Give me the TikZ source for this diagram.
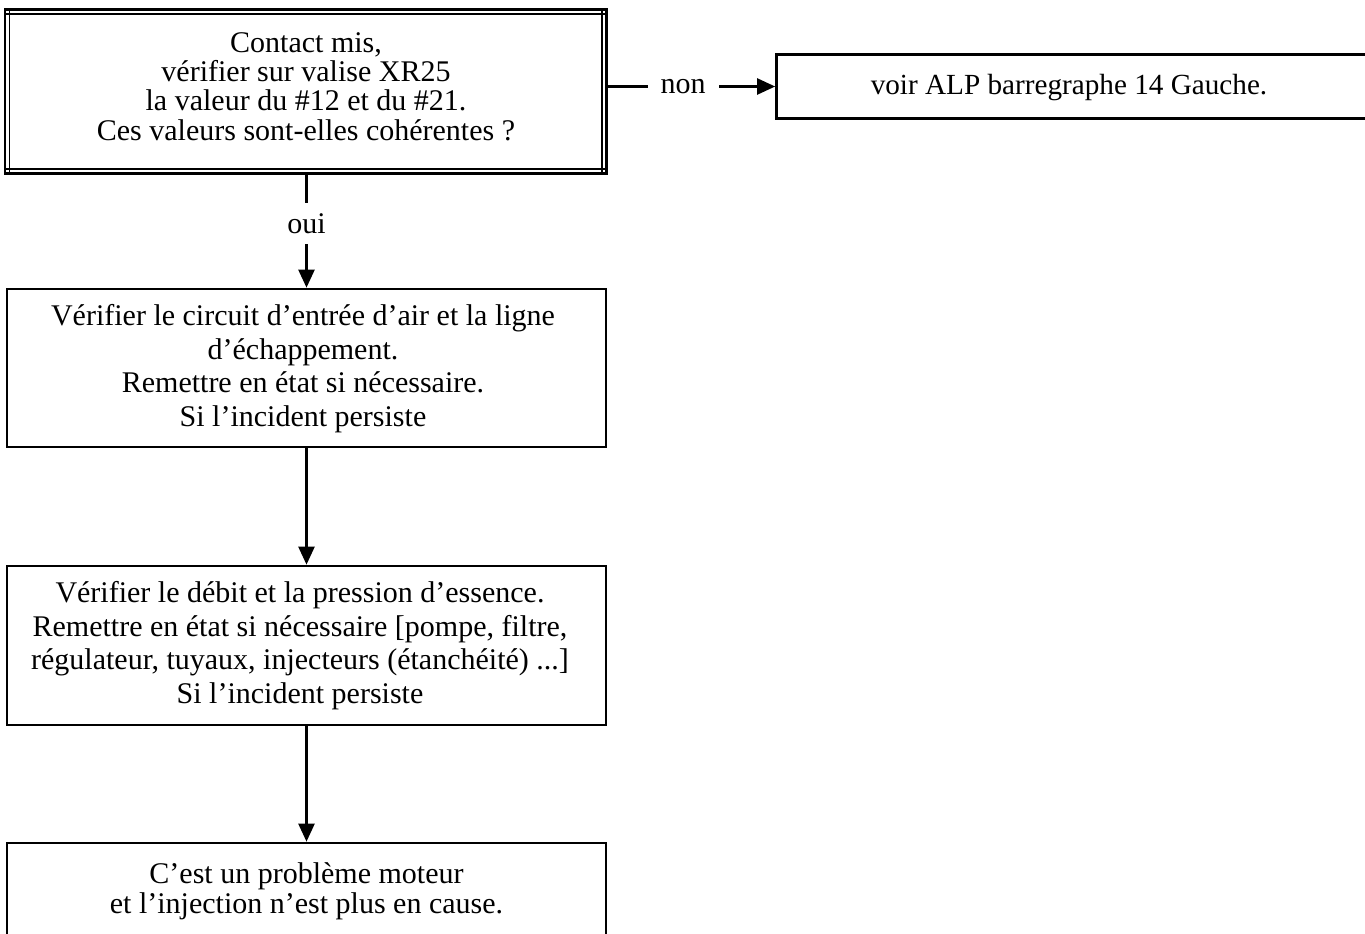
\documentclass[tikz,border=0pt]{standalone}
\usepackage{fontspec}
\setmainfont{Liberation Serif}
\usetikzlibrary{arrows.meta}
\begin{document}
\begin{tikzpicture}[x=1pt,y=-1pt,
  txt/.style={font=\fontsize{30}{33.5}\selectfont, align=center, inner sep=0pt},
  boxshape/.style={draw, line width=2.7pt, inner sep=0pt},
  conn/.style={line width=2.4pt},
  arr/.style={conn, -{Triangle[length=18pt,width=16pt]}},
  lbl/.style={txt, fill=white, inner xsep=13pt, inner ysep=10.5pt},
]
\useasboundingbox (0,0) rectangle (1365,934);

% top question box (double border)
\node[minimum width=601.5pt, minimum height=164pt, inner sep=0pt] (q) at (305.75,91.5) {};
\node[txt, font=\fontsize{30}{29.3}\selectfont, anchor=base] (qt) at (306,140)
  {Contact mis,\\vérifier sur valise XR25\\la valeur du \#12 et du \#21.\\Ces valeurs sont-elles cohérentes ?};
\draw[line width=2.6pt] (q.north west) rectangle (q.south east);
\draw[line width=1.5pt] ([yshift=-4.5pt]q.north west) -- ([yshift=-4.5pt]q.north east);
\draw[line width=1.5pt] ([yshift=4.5pt]q.south west) -- ([yshift=4.5pt]q.south east);
\draw[line width=1.5pt] ([xshift=4.5pt]q.north west) -- ([xshift=4.5pt]q.south west);
\draw[line width=1.5pt] ([xshift=-4.5pt]q.north east) -- ([xshift=-4.5pt]q.south east);

% right box (runs past right edge)
\node[boxshape, minimum width=590pt, minimum height=64pt] (r) at (1071.5,86.5) {};
\node[txt, font=\fontsize{29.2}{33}\selectfont, anchor=base] (rt) at (1069,94) {voir ALP barregraphe 14 Gauche.};

% box 2
\node[boxshape, minimum width=599pt, minimum height=158pt] (b2) at (306.5,368) {};
\node[txt, anchor=base] (b2t) at (303,426)
  {Vérifier le circuit d’entrée d’air et la ligne\\d’échappement.\\Remettre en état si nécessaire.\\Si l’incident persiste};

% box 3
\node[boxshape, minimum width=599pt, minimum height=159pt] (b3) at (306.5,645.5) {};
\node[txt, anchor=base] (b3t) at (300,703)
  {Vérifier le débit et la pression d’essence.\\Remettre en état si nécessaire [pompe, filtre,\\régulateur, tuyaux, injecteurs (étanchéité) ...]\\Si l’incident persiste};

% box 4 (runs past bottom edge)
\node[boxshape, minimum width=599pt, minimum height=110pt] (b4) at (306.5,898) {};
\node[txt, font=\fontsize{30}{30}\selectfont, anchor=base] (b4t) at (306.5,913)
  {C’est un problème moteur\\et l’injection n’est plus en cause.};

% connectors
\draw[arr] (q.east |- r.west) -- node[lbl, pos=0.453] {non} (r.west);
\draw[arr] (q.south -| b2.north) -- node[lbl, pos=0.437, inner xsep=3pt] {oui} (b2.north);
\draw[arr] (b2.south) -- (b3.north);
\draw[arr] (b3.south) -- (b4.north);
\end{tikzpicture}
\end{document}
